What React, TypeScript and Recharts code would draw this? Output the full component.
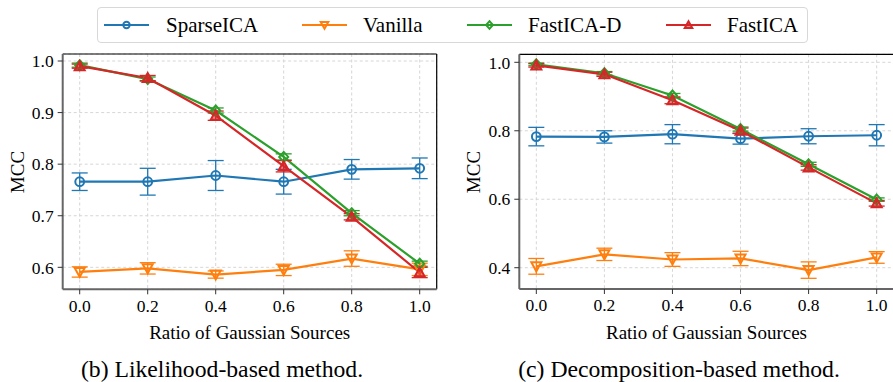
import React from "react";
import {
  LineChart,
  Line,
  XAxis,
  YAxis,
  CartesianGrid,
  ErrorBar,
  ReferenceLine,
} from "recharts";

const ratios = [0, 0.2, 0.4, 0.6, 0.8, 1.0];

// (b) likelihood-based
const sparseLik = [0.766, 0.766, 0.778, 0.766, 0.79, 0.792];
const sparseLikErr = [0.017, 0.026, 0.029, 0.024, 0.019, 0.02];
const vanillaLik = [0.591, 0.598, 0.586, 0.595, 0.617, 0.596];
const vanillaLikErr = [0.01, 0.011, 0.007, 0.011, 0.015, 0.012];
const fastDLik = [0.992, 0.965, 0.904, 0.814, 0.705, 0.607];
const fastDLikErr = [0.004, 0.004, 0.005, 0.006, 0.005, 0.005];
const fastLik = [0.99, 0.967, 0.894, 0.796, 0.698, 0.59];
const fastLikErr = [0.004, 0.005, 0.009, 0.011, 0.006, 0.01];

// (c) decomposition-based
const sparseDec = [0.783, 0.782, 0.79, 0.777, 0.784, 0.787];
const sparseDecErr = [0.027, 0.018, 0.028, 0.016, 0.022, 0.031];
const vanillaDec = [0.404, 0.439, 0.424, 0.427, 0.393, 0.43];
const vanillaDecErr = [0.023, 0.018, 0.02, 0.021, 0.024, 0.017];
const fastDDec = [0.994, 0.968, 0.903, 0.805, 0.702, 0.599];
const fastDDecErr = [0.004, 0.005, 0.006, 0.006, 0.006, 0.005];
const fastDec = [0.991, 0.965, 0.889, 0.8, 0.693, 0.588];
const fastDecErr = [0.005, 0.006, 0.01, 0.008, 0.008, 0.008];

const ticksLik = [0.6, 0.7, 0.8, 0.9, 1.0];
const ticksDec = [0.4, 0.6, 0.8, 1.0];

const BLUE = "#1f77b4";
const ORANGE = "#ff7f0e";
const GREEN = "#2ca02c";
const RED = "#d62728";
const FONT = "Liberation Serif, Times New Roman, serif";

const build = (a: number[], ae: number[], b: number[], be: number[], c: number[], ce: number[], d: number[], de: number[]) =>
  ratios.map((x, i) => ({
    x,
    sparse: a[i], sparseErr: ae[i],
    vanilla: b[i], vanillaErr: be[i],
    fastD: c[i], fastDErr: ce[i],
    fast: d[i], fastErr: de[i],
  }));

function Marker({ kind, cx, cy, color, s = 5 }: any) {
  if (kind === "circle")
    return <circle cx={cx} cy={cy} r={s - 0.6} fill="none" stroke={color} strokeWidth={2} />;
  if (kind === "down")
    return (
      <polygon
        points={`${cx - s},${cy - s * 0.8} ${cx + s},${cy - s * 0.8} ${cx},${cy + s}`}
        fill="none" stroke={color} strokeWidth={2}
      />
    );
  if (kind === "diamond")
    return (
      <polygon
        points={`${cx},${cy - s} ${cx + s * 0.9},${cy} ${cx},${cy + s} ${cx - s * 0.9},${cy}`}
        fill="none" stroke={color} strokeWidth={2}
      />
    );
  return (
    <polygon
      points={`${cx - s},${cy + s * 0.8} ${cx + s},${cy + s * 0.8} ${cx},${cy - s}`}
      fill={color} fillOpacity={0.55} stroke={color} strokeWidth={2}
    />
  );
}

const dotFor = (kind: string, color: string) => (p: any) =>
  <Marker key={`${kind}-${p.index}`} kind={kind} cx={p.cx} cy={p.cy} color={color} />;

const series = [
  { key: "sparse", color: BLUE, kind: "circle", name: "SparseICA" },
  { key: "vanilla", color: ORANGE, kind: "down", name: "Vanilla" },
  { key: "fastD", color: GREEN, kind: "diamond", name: "FastICA-D" },
  { key: "fast", color: RED, kind: "up", name: "FastICA" },
];

function Panel({ data, domain, ticks, margin, left }: any) {
  const tickStyle = { fill: "#000", fontSize: 17.5, fontFamily: FONT };
  return (
    <div style={{ position: "absolute", left, top: 0 }}>
      <LineChart width={450} height={382} data={data} margin={margin}>
        <CartesianGrid stroke="#d6d6d6" strokeDasharray="3 2.5" />
        <XAxis
          dataKey="x" type="number" domain={[-0.05, 1.05]} ticks={ratios}
          tickFormatter={(v: number) => v.toFixed(1)}
          axisLine={{ stroke: "#666", strokeWidth: 2 }}
          tickLine={{ stroke: "#333" }}
          tickSize={5} tickMargin={5} height={30} tick={tickStyle}
          allowDataOverflow
        />
        <YAxis
          type="number" domain={domain} ticks={ticks}
          tickFormatter={(v: number) => v.toFixed(1)}
          axisLine={{ stroke: "#666", strokeWidth: 2 }}
          tickLine={{ stroke: "#333" }}
          tickSize={5} tickMargin={4} width={50} tick={tickStyle}
          allowDataOverflow
        />
        <ReferenceLine x={1.05} stroke="#000" strokeWidth={1.2} />
        <ReferenceLine y={domain[1]} stroke="#000" strokeWidth={1.2} />
        {series.map((s) => (
          <Line
            key={s.key} dataKey={s.key} stroke={s.color} strokeWidth={2.2}
            isAnimationActive={false} dot={dotFor(s.kind, s.color)} activeDot={false}
          >
            <ErrorBar dataKey={`${s.key}Err`} direction="y" width={8} stroke={s.color} strokeWidth={1.3} />
          </Line>
        ))}
      </LineChart>
    </div>
  );
}

const txt = (t: string, x: number, y: number, size: number, rotate = false) => (
  <div
    style={{
      position: "absolute", left: x, top: y, fontFamily: FONT, fontSize: size,
      lineHeight: 1, whiteSpace: "nowrap", color: "#000",
      transform: `translate(-50%, -50%)${rotate ? " rotate(-90deg)" : ""}`,
    }}
  >
    {t}
  </div>
);

const legendPos = [
  { lineX: 104, textX: 166 },
  { lineX: 302, textX: 363 },
  { lineX: 467, textX: 528 },
  { lineX: 666, textX: 727 },
];

export default function App() {
  const lik = build(sparseLik, sparseLikErr, vanillaLik, vanillaLikErr, fastDLik, fastDLikErr, fastLik, fastLikErr);
  const dec = build(sparseDec, sparseDecErr, vanillaDec, vanillaDecErr, fastDDec, fastDDecErr, fastDec, fastDecErr);
  return (
    <div style={{ position: "fixed", left: 0, top: 0, width: 893, height: 382, overflow: "hidden", background: "#fff" }}>
      <Panel data={lik} domain={[0.5574, 1.0136]} ticks={ticksLik} left={0}
        margin={{ top: 54, right: 13.3, bottom: 62.7, left: 12.7 }} />
      <Panel data={dec} domain={[0.3378, 1.0234]} ticks={ticksDec} left={450}
        margin={{ top: 54.3, right: 6.3, bottom: 63, left: 19.3 }} />

      {/* legend */}
      <div style={{
        position: "absolute", left: 96.7, top: 6.7, width: 711.6, height: 36.6, boxSizing: "border-box",
        border: "1px solid #d8d8d8", borderRadius: 4, background: "rgba(255,255,255,0.85)",
      }} />
      {series.map((s, i) => (
        <React.Fragment key={s.key}>
          <svg style={{ position: "absolute", left: legendPos[i].lineX, top: 14 }} width={46} height={22}>
            <line x1={0} x2={45} y1={11} y2={11} stroke={s.color} strokeWidth={2.2} />
            <Marker kind={s.kind} cx={22.5} cy={11} color={s.color} s={3.8} />
          </svg>
          <div style={{
            position: "absolute", left: legendPos[i].textX, top: 25, transform: "translateY(-50%)",
            fontFamily: FONT, fontSize: 21, lineHeight: 1, whiteSpace: "nowrap",
          }}>{s.name}</div>
        </React.Fragment>
      ))}

      {txt("MCC", 16.7, 171.6, 19, true)}
      {txt("MCC", 473.3, 171.6, 19, true)}
      {txt("Ratio of Gaussian Sources", 249.7, 331.7, 19)}
      {txt("Ratio of Gaussian Sources", 706.5, 331.7, 19)}
      {txt("(b) Likelihood-based method.", 222, 370, 23.7)}
      {txt("(c) Decomposition-based method.", 679, 370, 23.7)}
    </div>
  );
}
